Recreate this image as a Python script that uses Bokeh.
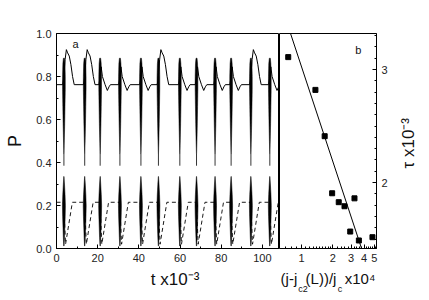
import math
from bokeh.plotting import figure
from bokeh.layouts import row
from bokeh.models import Range1d, FixedTicker, PrintfTickFormatter, Label
from bokeh.embed import file_html
from bokeh.resources import INLINE

FONT = "Liberation Sans"

# ---------------- Panel a data ----------------
burst_t = [3.6, 13.7, 21.2, 30.8, 41.0, 49.5, 59.9, 68.0, 77.0, 84.8, 94.4, 103.6]
burst_kind = ["A", "A", "B", "B", "B", "A", "B", "B", "B", "B", "A", "B"]
solid_base = 0.762
dashed_base = 0.215
t_first, t_last = 0.0, 110.0

# solid-curve shape around a burst (offset in t, value of P)
profA_dt = [-0.6, 0.0, 0.6, 1.2, 1.8, 2.6, 3.4, 4.2, 5.0]
profA_P = [0.762, 0.80, 0.88, 0.925, 0.91, 0.895, 0.855, 0.80, 0.762]
profB_dt = [-0.6, 0.0, 0.5, 1.1, 2.4, 3.5, 4.3, 5.0]
profB_P = [0.762, 0.80, 0.845, 0.80, 0.762, 0.735, 0.752, 0.762]
# dashed-curve shape around a burst
dash_dt = [-0.4, 0.0, 0.8, 4.1]
dash_P = [0.215, 0.20, 0.02, 0.215]
# envelope of the fast oscillation (upper and lower black spindles)
upper_P = [0.885, 0.86, 0.80, 0.74, 0.66, 0.58, 0.50, 0.44]
upper_hw = [0.25, 0.50, 0.65, 0.65, 0.52, 0.38, 0.20, 0.04]
lower_P = [0.335, 0.30, 0.25, 0.20, 0.15, 0.10, 0.05, 0.012]
lower_hw = [0.05, 0.28, 0.55, 0.72, 0.62, 0.45, 0.28, 0.08]
link_P = [0.44, 0.385]

a_xticks = [0, 20, 40, 60, 80, 100]
a_xminor = [10, 30, 50, 70, 90]
a_yticks = [0.0, 0.2, 0.4, 0.6, 0.8, 1.0]
a_yminor = [0.1, 0.3, 0.5, 0.7, 0.9]

# ---------------- Panel b data ----------------
b_j = [0.745, 1.36, 1.67, 1.97, 2.28, 2.59, 3.23, 2.94, 3.56, 4.81]
b_tau = [3.11, 2.82, 2.41, 1.905, 1.826, 1.79, 1.86, 1.566, 1.487, 1.516]
fit_j = [0.784, 3.78]
fit_tau = [3.319, 1.416]
b_xticks = [1, 2, 3, 4, 5]
b_xminor = [0.7, 0.8, 0.9, 1.1, 1.2, 1.3, 1.4, 1.5, 1.6, 1.7, 1.8, 1.9,
            2.2, 2.4, 2.6, 2.8, 3.2, 3.4, 3.6, 3.8, 4.2, 4.4, 4.6, 4.8, 5.2]
b_yticks = [2, 3]
b_yminor = [1.5, 1.6, 1.7, 1.8, 1.9, 2.1, 2.2, 2.3, 2.4, 2.5, 2.6, 2.7, 2.8, 2.9, 3.1, 3.2, 3.3]

# ---------------- build series ----------------
solid_t, solid_P = [t_first], [solid_base]
dashed_t, dashed_P = [t_first], [dashed_base]
up_xs, up_ys, lo_xs, lo_ys, lk_xs, lk_ys = [], [], [], [], [], []
for tb, kind in zip(burst_t, burst_kind):
    dts, ps = (profA_dt, profA_P) if kind == "A" else (profB_dt, profB_P)
    solid_t += [tb + d for d in dts]
    solid_P += list(ps)
    dashed_t += [tb + d for d in dash_dt]
    dashed_P += list(dash_P)
    up_xs.append([tb - h for h in upper_hw] + [tb + h for h in reversed(upper_hw)])
    up_ys.append(list(upper_P) + list(reversed(upper_P)))
    lo_xs.append([tb - h for h in lower_hw] + [tb + h for h in reversed(lower_hw)])
    lo_ys.append(list(lower_P) + list(reversed(lower_P)))
    lk_xs.append([tb, tb])
    lk_ys.append(list(link_P))
solid_t.append(t_last); solid_P.append(solid_base)
dashed_t.append(t_last); dashed_P.append(dashed_base)

# ---------------- geometry (screen pixels) ----------------
FRAME_TOP, FRAME_BOT = 33, 248
PH = FRAME_BOT - FRAME_TOP
TOP, BOT = FRAME_TOP, 47
A_LEFT, A_W = 56, 223
B_W, B_RIGHT = 97, 50
ax0, ax1 = 0.0, 108.3
bx0, bx1 = 0.614, 5.26
by0, by1 = 1.416, 3.319
NB = "\u00a0"


def style_axes(p):
    for ax in p.axis:
        ax.major_tick_in = 4
        ax.major_tick_out = 0
        ax.minor_tick_in = 2
        ax.minor_tick_out = 0
        ax.axis_line_color = "black"
        ax.major_tick_line_color = "black"
        ax.minor_tick_line_color = "black"
        ax.major_label_text_font = FONT
        ax.major_label_text_font_size = "11px"
        ax.major_label_text_color = "#222222"
        ax.major_label_standoff = 5
        ax.axis_label_text_font = FONT
        ax.axis_label_text_font_style = "normal"
        ax.axis_label_text_color = "#111111"
        ax.axis_label_standoff = 5
    p.grid.visible = False
    p.outline_line_color = "black"
    p.outline_line_width = 1
    p.background_fill_color = "white"
    p.border_fill_color = "white"


pa = figure(width=A_LEFT + A_W, height=TOP + PH + BOT,
            x_range=Range1d(ax0, ax1), y_range=Range1d(0, 1),
            min_border_left=A_LEFT, min_border_right=0,
            min_border_top=TOP, min_border_bottom=BOT,
            output_backend="svg", toolbar_location=None)
pa.xaxis.ticker = FixedTicker(ticks=a_xticks, minor_ticks=a_xminor)
pa.yaxis.ticker = FixedTicker(ticks=a_yticks, minor_ticks=a_yminor)
pa.xaxis.formatter = PrintfTickFormatter(format="%d")
pa.yaxis.formatter = PrintfTickFormatter(format="%.1f")
style_axes(pa)
pa.xaxis.axis_label = NB * 3 + "t x10\u207b\u00b3"
pa.xaxis.axis_label_text_font_size = "17px"
pa.yaxis.axis_label = "P"
pa.yaxis.axis_label_text_font_size = "18px"
pa.yaxis.axis_label_standoff = 8

pa.line(dashed_t, dashed_P, line_color="black", line_width=0.9, line_dash="4 3")
pa.line(solid_t, solid_P, line_color="black", line_width=1)
pa.patches(up_xs, up_ys, fill_color="black", line_color="black", line_width=0.5)
pa.patches(lo_xs, lo_ys, fill_color="black", line_color="black", line_width=0.5)
pa.multi_line(lk_xs, lk_ys, line_color="black", line_width=0.8)


def a_at(px, py):
    return (ax0 + (px - A_LEFT) * (ax1 - ax0) / A_W, (FRAME_BOT - py) / PH)


def add_label(p, xy, text, size, place="center", align="left", baseline="alphabetic", angle=0.0):
    lab = Label(x=xy[0], y=xy[1], text=text, text_font=FONT,
                text_font_size=size, text_align=align,
                text_baseline=baseline, angle=angle, text_color="#111111")
    p.add_layout(lab, place)


add_label(pa, a_at(75, 43), "a", "11px", align="center", baseline="middle")

# ---------------- panel b ----------------
pb = figure(width=B_W + B_RIGHT, height=TOP + PH + BOT,
            x_range=Range1d(bx0, bx1), y_range=Range1d(by0, by1),
            x_axis_type="log", y_axis_location="right",
            min_border_left=0, min_border_right=B_RIGHT,
            min_border_top=TOP, min_border_bottom=BOT,
            output_backend="svg", toolbar_location=None)
pb.xaxis.ticker = FixedTicker(ticks=b_xticks, minor_ticks=b_xminor)
pb.yaxis.ticker = FixedTicker(ticks=b_yticks, minor_ticks=b_yminor)
pb.xaxis.formatter = PrintfTickFormatter(format="%d")
pb.yaxis.formatter = PrintfTickFormatter(format="%d")
style_axes(pb)
pb.xaxis.axis_label = "(j-j" + NB + NB + "(L))/j" + NB + NB + "x10\u2074"
pb.xaxis.axis_label_text_font_size = "15px"

pb.line(fit_j, fit_tau, line_color="black", line_width=1)
pb.scatter(b_j, b_tau, marker="square", size=5, color="black")


def b_at(px, py):
    lx0, lx1 = math.log10(bx0), math.log10(bx1)
    x = 10 ** (lx0 + (px - 279) * (lx1 - lx0) / B_W)
    y = by0 + (FRAME_BOT - py) * (by1 - by0) / PH
    return (x, y)


add_label(pb, b_at(357.7, 49.3), "b", "11px", align="center", baseline="middle")
add_label(pb, b_at(297.8, 288), "c2", "9px", place="above")
add_label(pb, b_at(337.2, 288), "c", "9px", place="above")
add_label(pb, b_at(408, 168), "\u03c4 x10\u207b\u00b3", "17px", place="right", angle=math.pi / 2)

layout = row(pa, pb, spacing=0)
open("out.html", "w").write(file_html(layout, INLINE))
